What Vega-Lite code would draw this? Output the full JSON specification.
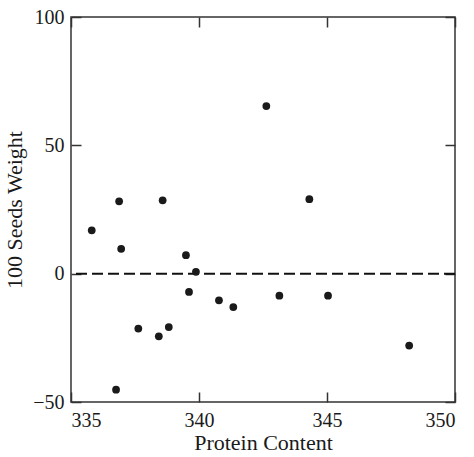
{
  "$schema": "https://vega.github.io/schema/vega-lite/v6.json",
  "autosize": {"type": "none"},
  "padding": {"left": 71, "top": 17, "right": 19, "bottom": 55},
  "width": 384,
  "height": 385,
  "config": {
    "view": {"stroke": "#333333", "strokeWidth": 1.5},
    "font": "Liberation Serif",
    "axis": {
      "domain": false,
      "grid": false,
      "tickColor": "#333333",
      "tickWidth": 1.5,
      "labelFont": "Liberation Serif",
      "titleFont": "Liberation Serif",
      "labelFontSize": 20,
      "titleFontSize": 22,
      "titleFontWeight": "normal",
      "labelColor": "#1a1a1a",
      "titleColor": "#1a1a1a"
    }
  },
  "data": {
    "values": [
      {"protein": 335.81, "weight": 16.9},
      {"protein": 336.88, "weight": 28.2},
      {"protein": 338.58, "weight": 28.6},
      {"protein": 342.63, "weight": 65.3},
      {"protein": 344.31, "weight": 29.0},
      {"protein": 336.96, "weight": 9.7},
      {"protein": 339.49, "weight": 7.2},
      {"protein": 339.88, "weight": 0.7},
      {"protein": 339.61, "weight": -7.1},
      {"protein": 340.78, "weight": -10.4},
      {"protein": 341.34, "weight": -13.0},
      {"protein": 337.63, "weight": -21.4},
      {"protein": 338.43, "weight": -24.4},
      {"protein": 338.82, "weight": -20.8},
      {"protein": 336.76, "weight": -45.2},
      {"protein": 343.14, "weight": -8.6},
      {"protein": 345.04, "weight": -8.6},
      {"protein": 348.21, "weight": -28.0}
    ]
  },
  "resolve": {"axis": {"x": "independent", "y": "independent"}},
  "layer": [
    {
      "mark": {"type": "rule", "strokeDash": [11, 5], "strokeWidth": 2, "color": "#111111"},
      "data": {"values": [{"y0": 0}]},
      "encoding": {
        "y": {"field": "y0", "type": "quantitative", "scale": {"domain": [-50, 100], "nice": false},
          "axis": {"orient": "right", "values": [-50, 0, 50, 100], "labels": false, "tickSize": -10, "title": null}}
      }
    },
    {
      "mark": {"type": "point", "filled": true, "size": 60, "color": "#1a1a1a", "opacity": 1},
      "encoding": {
        "x": {"field": "protein", "type": "quantitative", "scale": {"domain": [335, 350], "nice": false, "zero": false},
          "axis": {"orient": "bottom", "values": [335, 340, 345, 350], "tickSize": -10, "labelPadding": 18, "title": "Protein Content", "titlePadding": 2, "format": "d"}},
        "y": {"field": "weight", "type": "quantitative", "scale": {"domain": [-50, 100], "nice": false},
          "axis": {"orient": "left", "values": [-50, 0, 50, 100], "tickSize": -10, "labelPadding": 17, "title": "100 Seeds Weight", "titlePadding": 6, "format": "d"}}
      }
    },
    {
      "mark": {"type": "rule", "opacity": 0},
      "data": {"values": [{"x0": 335}]},
      "encoding": {
        "x": {"field": "x0", "type": "quantitative", "scale": {"domain": [335, 350], "nice": false, "zero": false},
          "axis": {"orient": "top", "values": [335, 340, 345, 350], "labels": false, "tickSize": -10, "title": null}}
      }
    }
  ]
}
